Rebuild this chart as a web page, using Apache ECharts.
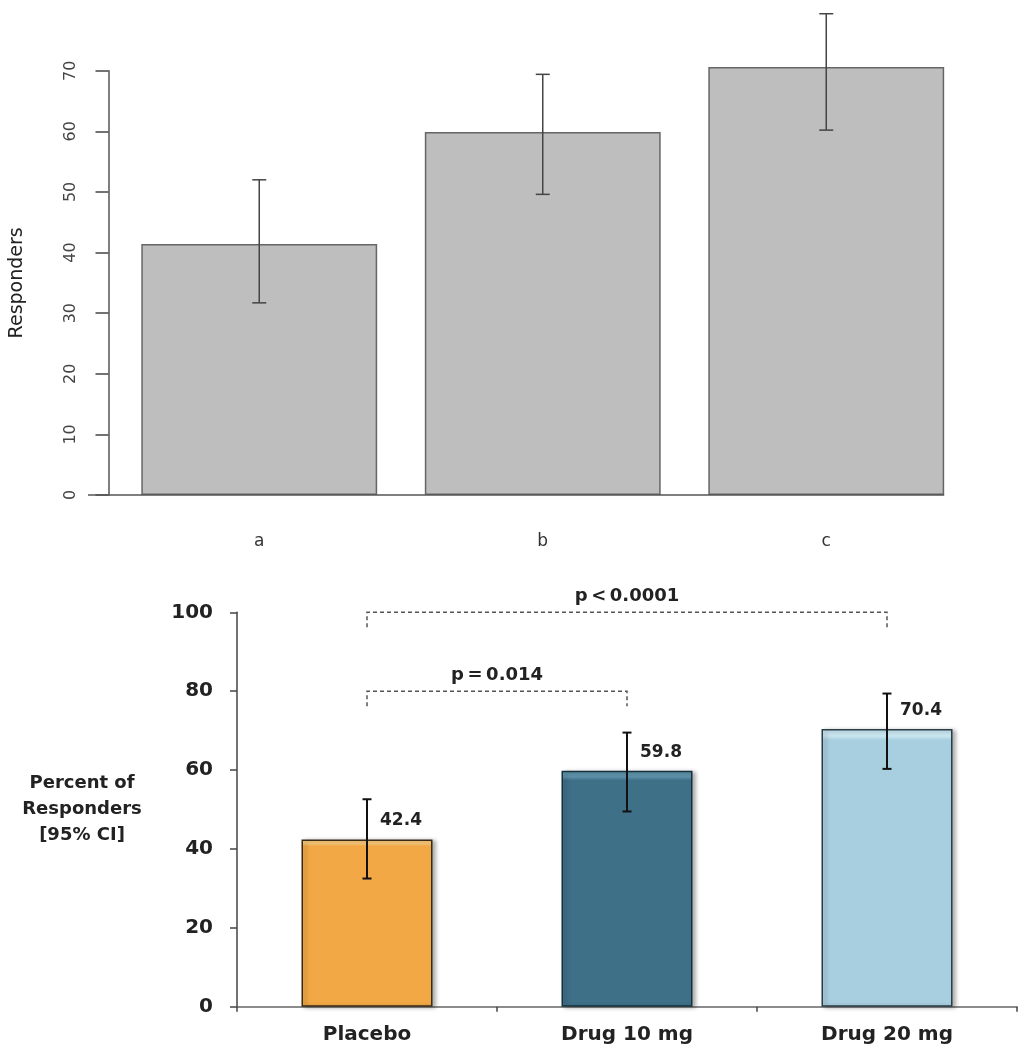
<!DOCTYPE html>
<html>
<head>
<meta charset="utf-8">
<script src="https://cdn.jsdelivr.net/npm/echarts@6/dist/echarts.min.js"></script>
<style>html,body{margin:0;padding:0;background:#fff;}#chart{width:1024px;height:1057px;}</style>
</head>
<body>
<div id="chart"></div>
<script>
// ---- Top chart data ----
const topCategories = ['a', 'b', 'c'];
const topValues = [41.4, 59.9, 70.6];
const topLower = [31.7, 49.6, 60.2];
const topUpper = [52.0, 69.4, 79.4];
const topYMin = 0, topYMax = 70, topYStep = 10;

// ---- Bottom chart data ----
const bottomCategories = ['Placebo', 'Drug 10 mg', 'Drug 20 mg'];
const bottomValues = [42.4, 59.8, 70.4];
const bottomLower = [32.5, 49.5, 60.3];
const bottomUpper = [52.6, 69.5, 79.4];
const bottomColors = ['#F2A945', '#3E7088', '#A8CFE0'];
const bottomLight = ['#F9C878', '#5E93AB', '#C9E6F1'];
const bottomBorders = ['#3a2a12', '#16303c', '#2a3d46'];
const bottomYMin = 0, bottomYMax = 100, bottomYStep = 20;
const compFrom = [0, 0];
const compTo = [1, 2];
const compY = [80, 100];
const compText = ['p\u2009=\u20090.014', 'p\u2009<\u20090.0001'];

const chart = echarts.init(document.getElementById('chart'), null, {renderer: 'canvas'});

function errRender(capHalf, color, width) {
  return function (params, api) {
    const x = api.value(0);
    const lo = api.coord([x, api.value(1)]);
    const hi = api.coord([x, api.value(2)]);
    const st = {stroke: color, lineWidth: width};
    return {
      type: 'group',
      children: [
        {type: 'line', shape: {x1: lo[0], y1: lo[1], x2: hi[0], y2: hi[1]}, style: st},
        {type: 'line', shape: {x1: lo[0] - capHalf, y1: lo[1], x2: lo[0] + capHalf, y2: lo[1]}, style: st},
        {type: 'line', shape: {x1: hi[0] - capHalf, y1: hi[1], x2: hi[0] + capHalf, y2: hi[1]}, style: st}
      ]
    };
  };
}

const option = {
  animation: false,
  backgroundColor: '#fff',
  grid: [
    {left: 113, right: 56, top: 70.7, height: 424.3},
    {left: 237, right: 7, top: 612.3, height: 394.4}
  ],
  xAxis: [
    {
      gridIndex: 0, type: 'category', data: topCategories,
      axisLine: {show: false}, axisTick: {show: false},
      axisLabel: {margin: 38, fontFamily: 'DejaVu Sans', fontSize: 17, color: '#333'}
    },
    {
      gridIndex: 1, type: 'category', data: bottomCategories,
      axisLine: {show: true, lineStyle: {color: '#666', width: 1.5}},
      axisTick: {show: true, length: 5, interval: 0, lineStyle: {color: '#444', width: 1.5}},
      axisLabel: {margin: 18, fontFamily: 'DejaVu Sans', fontWeight: 'bold', fontSize: 20, color: '#222'}
    }
  ],
  yAxis: [
    {
      gridIndex: 0, type: 'value', min: topYMin, max: topYMax, interval: topYStep,
      offset: 9,
      name: 'Responders', nameLocation: 'middle', nameRotate: 90, nameGap: 91,
      nameTextStyle: {fontFamily: 'DejaVu Sans', fontSize: 19, color: '#222', align: 'center', verticalAlign: 'middle'},
      splitLine: {show: false},
      axisLine: {show: true, lineStyle: {color: '#555', width: 1.5}},
      axisTick: {show: true, length: 13, lineStyle: {color: '#444', width: 1.5}},
      axisLabel: {rotate: 90, margin: 30, fontFamily: 'DejaVu Sans', fontSize: 16, color: '#444'}
    },
    {
      gridIndex: 1, type: 'value', min: bottomYMin, max: bottomYMax, interval: bottomYStep,
      name: 'Percent of\nResponders\n[95% CI]', nameLocation: 'middle', nameRotate: 0, nameGap: 155,
      nameTextStyle: {fontFamily: 'DejaVu Sans', fontWeight: 'bold', fontSize: 18, color: '#222',
        align: 'center', verticalAlign: 'middle', lineHeight: 26},
      splitLine: {show: false},
      axisLine: {show: true, lineStyle: {color: '#444', width: 1.5}},
      axisTick: {show: true, length: 7, lineStyle: {color: '#444', width: 1.5}},
      axisLabel: {margin: 24, fontFamily: 'DejaVu Sans', fontWeight: 'bold', fontSize: 20, color: '#222'}
    }
  ],
  series: [
    {
      type: 'bar', xAxisIndex: 0, yAxisIndex: 0, data: topValues,
      barWidth: '83.2%', clip: false,
      itemStyle: {color: '#BEBEBE', borderColor: '#666', borderWidth: 1.5}
    },
    {
      type: 'custom', xAxisIndex: 0, yAxisIndex: 0, clip: false, z: 5,
      data: topCategories.map((c, i) => [i, topLower[i], topUpper[i]]),
      renderItem: errRender(7, '#444', 1.5)
    },
    {
      type: 'bar', xAxisIndex: 1, yAxisIndex: 1, clip: false,
      data: bottomValues.map((v, i) => ({
        value: v,
        itemStyle: {
          color: {type: 'linear', x: 0, y: 0, x2: 0, y2: 1, colorStops: [
            {offset: 0, color: bottomLight[i]}, {offset: 0.025, color: bottomLight[i]},
            {offset: 0.04, color: bottomColors[i]}, {offset: 1, color: bottomColors[i]}]},
          borderColor: bottomBorders[i]
        }
      })),
      barWidth: 131,
      itemStyle: {borderWidth: 1.5, shadowColor: 'rgba(0,0,0,0.3)', shadowBlur: 4, shadowOffsetX: 3, shadowOffsetY: 1},
      label: {show: true, position: 'top', offset: [34, -5], fontFamily: 'DejaVu Sans', fontWeight: 'bold', fontSize: 17, color: '#222'}
    },
    {
      type: 'custom', xAxisIndex: 1, yAxisIndex: 1, clip: false, z: 5,
      data: bottomCategories.map((c, i) => [i, bottomLower[i], bottomUpper[i]]),
      renderItem: errRender(4.5, '#111', 2)
    },
    {
      type: 'custom', xAxisIndex: 1, yAxisIndex: 1, clip: false, z: 6,
      data: compFrom.map((f, i) => [f, compTo[i], compY[i], compText[i]]),
      renderItem: function (params, api) {
        const p1 = api.coord([api.value(0), api.value(2)]);
        const p2 = api.coord([api.value(1), api.value(2)]);
        const drop = 15;
        return {
          type: 'group',
          children: [
            {type: 'polyline', shape: {points: [[p1[0], p1[1] + drop], [p1[0], p1[1]], [p2[0], p1[1]], [p2[0], p1[1] + drop]]},
              style: {stroke: '#555', lineWidth: 1.5, lineDash: [4, 3], fill: null}},
            {type: 'text', x: (p1[0] + p2[0]) / 2, y: p1[1] - 16,
              style: {text: compText[params.dataIndex], fontFamily: 'DejaVu Sans', fontWeight: 'bold', fontSize: 18,
                fill: '#222', align: 'center', verticalAlign: 'middle'}}
          ]
        };
      }
    }
  ]
};
chart.setOption(option);

// baseline of the top chart (R style: from left of the axis to the right edge of the last bar)
const lastCenter = chart.convertToPixel({gridIndex: 0}, [topCategories.length - 1, 0]);
const firstCenter = chart.convertToPixel({gridIndex: 0}, [0, 0]);
const catW = (lastCenter[0] - firstCenter[0]) / (topCategories.length - 1);
const rightEdge = lastCenter[0] + catW * 0.832 / 2;
chart.setOption({
  graphic: [
    {
      type: 'line', z: 10,
      shape: {x1: 88, y1: lastCenter[1], x2: rightEdge, y2: lastCenter[1]},
      style: {stroke: '#555', lineWidth: 1.5}
    }
  ]
});
</script>
</body>
</html>
